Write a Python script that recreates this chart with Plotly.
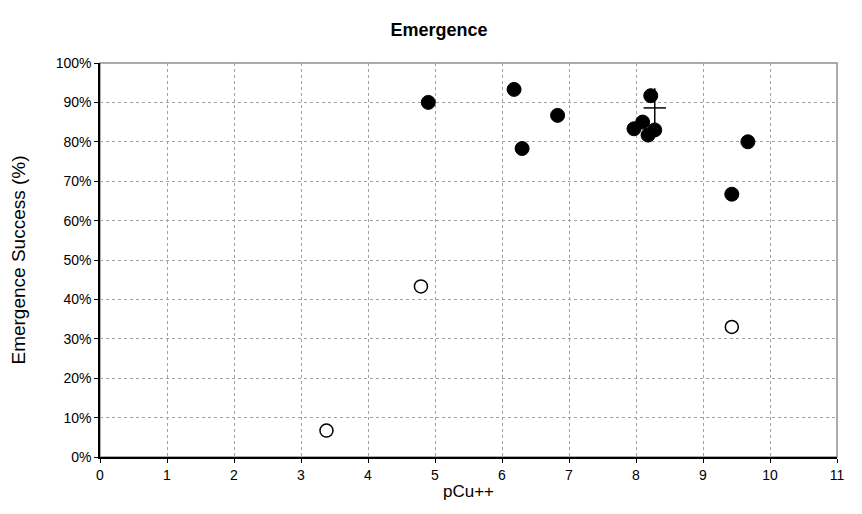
import plotly.graph_objects as go

filled_x = [4.9, 6.18, 6.3, 6.83, 7.97, 8.1, 8.18, 8.28, 8.22, 9.43, 9.67]
filled_y = [0.90, 0.933, 0.783, 0.867, 0.833, 0.85, 0.817, 0.83, 0.917, 0.667, 0.80]
open_x = [3.38, 4.79, 9.43]
open_y = [0.067, 0.433, 0.33]
mean_x = [8.28]
mean_y = [0.886]
mean_err = [0.05]

fig = go.Figure()
fig.add_trace(go.Scatter(x=mean_x, y=mean_y, mode="markers",
                         marker=dict(symbol="line-ew", size=16, line=dict(color="black", width=1.5)),
                         error_y=dict(type="data", array=mean_err, color="black", thickness=1.5, width=0),
                         showlegend=False))
fig.add_trace(go.Scatter(x=filled_x, y=filled_y, mode="markers",
                         marker=dict(symbol="circle", size=14, color="black", line=dict(color="black", width=1)),
                         showlegend=False))
fig.add_trace(go.Scatter(x=open_x, y=open_y, mode="markers",
                         marker=dict(symbol="circle", size=13, color="white", line=dict(color="black", width=1.5)),
                         showlegend=False))

fig.add_shape(type="rect", xref="paper", yref="paper", x0=0, y0=0, x1=1, y1=1,
              line=dict(color="#909090", width=1.5), layer="below")

font = "Liberation Sans, Arial, sans-serif"
fig.update_layout(
    width=862, height=514,
    margin=dict(l=92, r=33, t=55, b=65),
    paper_bgcolor="white", plot_bgcolor="white",
    font=dict(family=font, color="black"),
    title=dict(text="<b>Emergence</b>", x=0.5, xanchor="center", y=0.957, yanchor="middle",
               font=dict(size=18, family=font)),
    xaxis=dict(range=[0, 11], dtick=1, tick0=0, showgrid=True, gridcolor="#a0a0a0", griddash="dot",
               gridwidth=1, zeroline=False, showline=True, linecolor="black", linewidth=1.5,
               ticks="outside", ticklen=4, tickcolor="black", tickfont=dict(size=14), automargin=False,
               title=dict(text="pCu++", font=dict(size=17), standoff=4)),
    yaxis=dict(range=[0, 1], dtick=0.1, tick0=0, tickformat=".0%", showgrid=True, gridcolor="#a0a0a0",
               griddash="dot", gridwidth=1, zeroline=False, showline=True, linecolor="black", linewidth=1.5,
               ticks="outside", ticklen=4, tickcolor="black", tickfont=dict(size=14), automargin=False,
               title=dict(text="Emergence Success (%)", font=dict(size=19), standoff=30)),
)
fig.write_html("out.html")
